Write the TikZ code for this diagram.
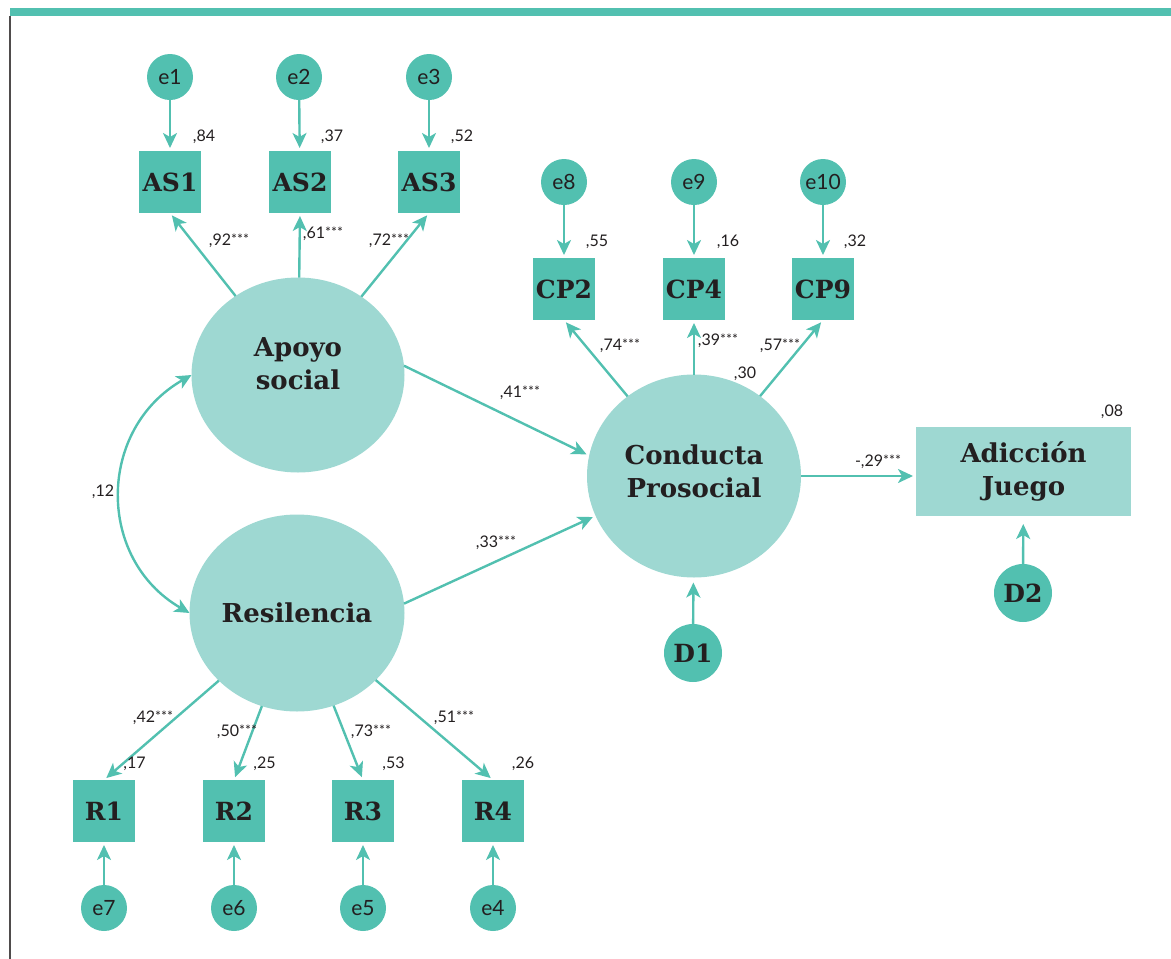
\documentclass[tikz,border=0pt]{standalone}
\usepackage{fontspec}
\usetikzlibrary{arrows.meta,shapes.geometric}
\newfontfamily\slabfont{DejaVu Serif}
\newfontfamily\labfont{Lato}
\definecolor{tealD}{HTML}{52C0B0}
\definecolor{tealL}{HTML}{9ED8D2}
\definecolor{txt}{HTML}{231F20}
\newcommand\stars{\raisebox{1.5pt}{\fontsize{14}{14}\selectfont***}}
\begin{document}
\begin{tikzpicture}[x=1pt,y=-1pt,
  every node/.style={inner sep=0pt, outer sep=0pt, text=txt},
  latent/.style={ellipse, fill=tealL, font=\slabfont\bfseries\fontsize{26}{33}\selectfont, align=center},
  obsbox/.style={rectangle, fill=tealD, minimum size=62pt, font=\slabfont\bfseries\fontsize{25}{25}\selectfont},
  errc/.style={circle, fill=tealD, minimum size=46pt, font=\labfont\fontsize{21}{21}\selectfont},
  distc/.style={circle, fill=tealD, minimum size=58pt, font=\slabfont\bfseries\fontsize{25}{25}\selectfont},
  lbl/.style={font=\labfont\fontsize{16}{16}\selectfont, anchor=center},
  arr/.style={draw=tealD, line width=2.4pt, -{Stealth[length=15pt,width=14pt,inset=4pt]}},
  biarr/.style={draw=tealD, line width=2.4pt, {Stealth[length=15pt,width=14pt,inset=4pt]}-{Stealth[length=15pt,width=14pt,inset=4pt]}},
]
\useasboundingbox (0,0) rectangle (1171,959);
% frame
\fill[tealD] (10,8) rectangle (1171,16);
\draw[txt!80, line width=1.2pt] (10,16) -- (10,959);

% error circles
\node[errc] (e1) at (170,77) {e1};
\node[errc] (e2) at (299,77) {e2};
\node[errc] (e3) at (429,77) {e3};
\node[errc] (e8) at (564,182) {e8};
\node[errc] (e9) at (694,182) {e9};
\node[errc] (e10) at (823,182) {e10};
\node[errc] (e7) at (104,908) {e7};
\node[errc] (e6) at (234,908) {e6};
\node[errc] (e5) at (363,908) {e5};
\node[errc] (e4) at (493,908) {e4};

% observed
\node[obsbox] (as1) at (170,182) {AS1};
\node[obsbox] (as2) at (300,182) {AS2};
\node[obsbox] (as3) at (429,182) {AS3};
\node[obsbox] (cp2) at (564,289) {CP2};
\node[obsbox] (cp4) at (694,289) {CP4};
\node[obsbox] (cp9) at (823,289) {CP9};
\node[obsbox] (r1) at (104,811) {R1};
\node[obsbox] (r2) at (234,811) {R2};
\node[obsbox] (r3) at (363,811) {R3};
\node[obsbox] (r4) at (493,811) {R4};

% latent
\node[latent, minimum width=213pt, minimum height=195pt, text depth=22pt] (apoyo) at (298,375) {Apoyo\\social};
\node[latent, minimum width=215pt, minimum height=197pt] (resil) at (297,613) {Resilencia};
\node[latent, minimum width=214pt, minimum height=203pt, text depth=10pt] (conducta) at (694,476) {Conducta\\Prosocial};
\node[rectangle, fill=tealL, minimum width=215pt, minimum height=89pt, font=\slabfont\bfseries\fontsize{26}{33}\selectfont, align=center] (adic) at (1023.5,471.5) {Adicción\\Juego};

% disturbances
\node[distc] (d1) at (693,653) {D1};
\node[distc] (d2) at (1023,593) {D2};

% error arrows
\foreach \a/\b in {e1/as1,e2/as2,e3/as3,e8/cp2,e9/cp4,e10/cp9,e7/r1,e6/r2,e5/r3,e4/r4}
  \draw[arr, shorten >=3pt] (\a) -- (\b);

% loadings
\foreach \b in {as1,as2,as3}
  \draw[arr, shorten >=3pt] (apoyo) -- (\b.south);
\foreach \b in {cp2,cp4,cp9}
  \draw[arr, shorten >=3pt] (conducta) -- (\b.south);
\foreach \b in {r1,r2,r3,r4}
  \draw[arr, shorten >=3pt] (resil) -- (\b.north);

% structural
\draw[arr, shorten >=3pt] (apoyo.5) -- (conducta.169);
\draw[arr, shorten >=3pt] (resil.5) -- (conducta.202);
\draw[arr, shorten >=3pt] (conducta.east) -- (conducta.east -| adic.west);
\draw[arr, shorten >=5pt] (d1) -- (conducta);
\draw[arr, shorten >=8pt] (d2) -- (adic);
\draw[biarr] (apoyo.west) .. controls (97,429) and (96,559) .. (resil.west);

% labels
\node[lbl] (l84) at (204,137) {,84};
\node[lbl] (l37) at (332,137) {,37};
\node[lbl] (l52) at (462,137) {,52};
\node[lbl] (l92) at (229,241) {,92\stars};
\node[lbl] (l61) at (323,234) {,61\stars};
\node[lbl] (l72) at (389,241) {,72\stars};
\node[lbl] (l55) at (597,242) {,55};
\node[lbl] (l16) at (728,242) {,16};
\node[lbl] (l32) at (855,242) {,32};
\node[lbl] (l74) at (620,346) {,74\stars};
\node[lbl] (l39) at (718,341) {,39\stars};
\node[lbl] (l57) at (780,346) {,57\stars};
\node[lbl] (l30) at (745,374) {,30};
\node[lbl] (l41) at (520,393) {,41\stars};
\node[lbl] (l33) at (496,543) {,33\stars};
\node[lbl] (l12) at (103,492) {,12};
\node[lbl] (l29) at (878,462) {-,29\stars};
\node[lbl] (l08) at (1112,412) {,08};
\node[lbl] (l42) at (153,718) {,42\stars};
\node[lbl] (l50) at (237,732) {,50\stars};
\node[lbl] (l73) at (371,732) {,73\stars};
\node[lbl] (l51) at (454,718) {,51\stars};
\node[lbl] (l17) at (134.5,764) {,17};
\node[lbl] (l25) at (264.5,764) {,25};
\node[lbl] (l53) at (393.5,764) {,53};
\node[lbl] (l26) at (523,764) {,26};
\end{tikzpicture}
\end{document}
